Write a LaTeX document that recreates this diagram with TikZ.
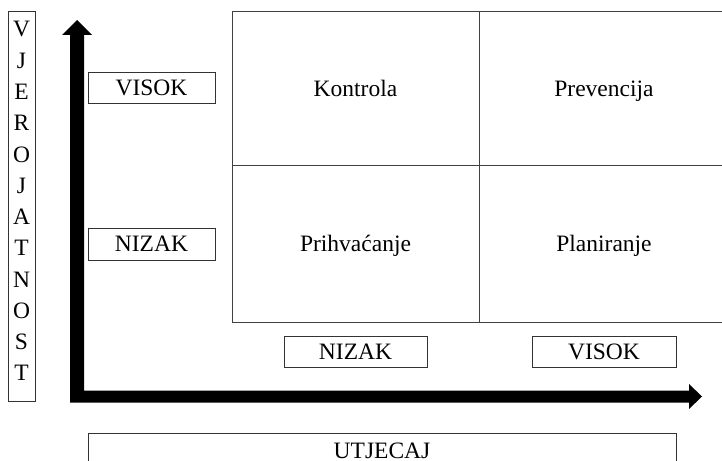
\documentclass[tikz,border=0pt]{standalone}
\usepackage{fontspec}
\setmainfont{Liberation Serif}
\begin{document}
\begin{tikzpicture}[x=1pt,y=-1pt,
  every node/.style={font=\fontsize{23.5}{28}\selectfont, text=black},
  lbl/.style={draw=black!80, line width=1pt, inner sep=0pt, text height=15pt, text depth=0pt},
  cell/.style={draw=black!75, line width=1pt, inner sep=0pt, text height=15pt, text depth=0pt},
  letter/.style={anchor=base, inner sep=0pt}
]
\clip (0,0) rectangle (722,460);
\fill[white] (0,0) rectangle (722,460);

% vertical axis title box
\node[draw=black!80, line width=1pt, minimum width=27pt, minimum height=389pt, inner sep=0pt] (vbox) at (21.5,206.5) {};
\foreach \l [count=\i from 0] in {V,J,E,R,O,J,A,T,N,O,S,T}
  \node[letter] (v\i) at (21.5,{37+31.27*\i}) {\l};

% axes (L-shaped thick arrow)
\coordinate (ytip) at (77,20);
\coordinate (xtip) at (702,396.5);
\fill[black] (ytip) -- (92,35) -- (84,35) -- (84,390.5) -- (689,390.5) -- (689,384)
  -- (xtip) -- (689,409) -- (689,402.5) -- (70,402.5) -- (70,35) -- (62,35) -- cycle;

% left labels
\node[lbl, minimum width=127pt, minimum height=31pt] (vlow) at (151.5,87.5) {VISOK};
\node[lbl, minimum width=127pt, minimum height=32pt] (nlow) at (151.5,244) {NIZAK};

% matrix cells
\node[cell, minimum width=247pt, minimum height=153.5pt] (kontrola) at (355.5,88.75) {Kontrola};
\node[cell, minimum width=250pt, minimum height=153.5pt] (prevencija) at (604,88.75) {Prevencija};
\node[cell, minimum width=247pt, minimum height=156.5pt] (prihvacanje) at (355.5,243.75) {Prihvaćanje};
\node[cell, minimum width=250pt, minimum height=156.5pt] (planiranje) at (604,243.75) {Planiranje};

% bottom labels
\node[lbl, minimum width=143pt, minimum height=31pt] (nbot) at (355.5,351.5) {NIZAK};
\node[lbl, minimum width=144pt, minimum height=31pt] (vbot) at (604,351.5) {VISOK};

% horizontal axis title box (runs past the lower edge)
\node[lbl, minimum width=588pt, minimum height=40pt] (utjecajbox) at (382,453) {};
\node[anchor=base, inner sep=0pt] (utjecaj) at (382,458) {UTJECAJ};
\end{tikzpicture}
\end{document}
